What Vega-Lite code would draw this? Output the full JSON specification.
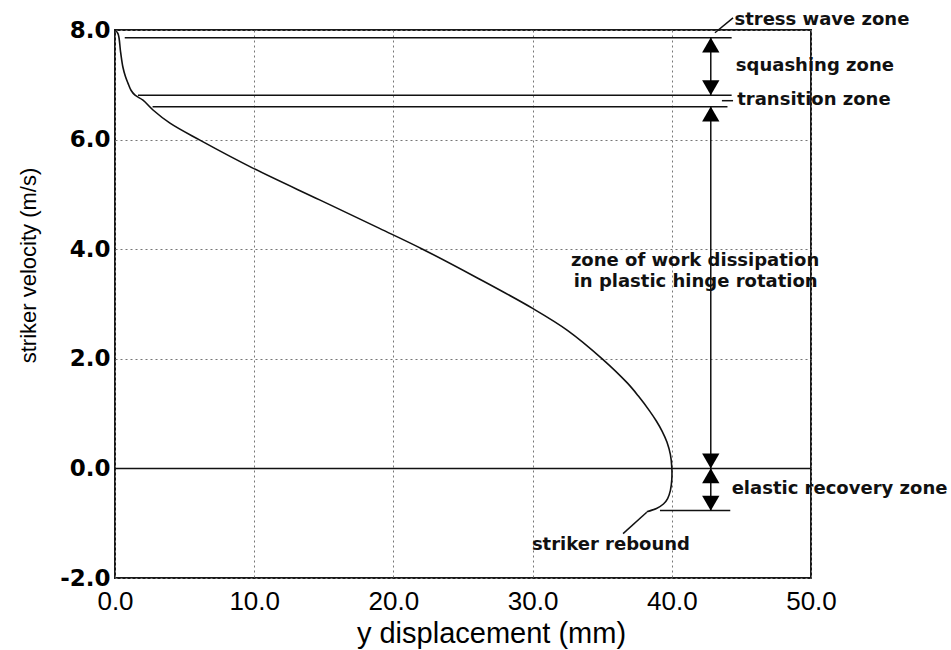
{
  "$schema": "https://vega.github.io/schema/vega-lite/v6.json",
  "width": 696,
  "height": 548,
  "autosize": "none",
  "padding": {"left": 115, "top": 30, "right": 140, "bottom": 72},
  "background": "white",
  "config": {"view": {"stroke": "#1a1a1a", "strokeWidth": 2}},
  "datasets": {
    "curve": [
      {"i": 1, "x": 0.0, "v": 8.0},
      {"i": 2, "x": 0.22, "v": 7.93},
      {"i": 3, "x": 0.4, "v": 7.6},
      {"i": 4, "x": 0.57, "v": 7.32},
      {"i": 5, "x": 0.75, "v": 7.15},
      {"i": 6, "x": 0.93, "v": 7.03},
      {"i": 7, "x": 1.15, "v": 6.9},
      {"i": 8, "x": 1.44, "v": 6.81},
      {"i": 9, "x": 2.01, "v": 6.72},
      {"i": 10, "x": 2.73, "v": 6.54},
      {"i": 11, "x": 3.95, "v": 6.3},
      {"i": 12, "x": 6.1, "v": 5.99},
      {"i": 13, "x": 9.9, "v": 5.48},
      {"i": 14, "x": 14.7, "v": 4.9},
      {"i": 15, "x": 19.0, "v": 4.38},
      {"i": 16, "x": 22.1, "v": 4.0},
      {"i": 17, "x": 26.0, "v": 3.48},
      {"i": 18, "x": 30.0, "v": 2.92},
      {"i": 19, "x": 32.5, "v": 2.52},
      {"i": 20, "x": 35.0, "v": 2.0},
      {"i": 21, "x": 36.8, "v": 1.56},
      {"i": 22, "x": 37.6, "v": 1.32},
      {"i": 23, "x": 38.4, "v": 1.05},
      {"i": 24, "x": 38.9, "v": 0.86},
      {"i": 25, "x": 39.3, "v": 0.68},
      {"i": 26, "x": 39.65, "v": 0.48},
      {"i": 27, "x": 39.9, "v": 0.25},
      {"i": 28, "x": 40.0, "v": 0.02},
      {"i": 29, "x": 40.0, "v": -0.2},
      {"i": 30, "x": 39.9, "v": -0.4},
      {"i": 31, "x": 39.7, "v": -0.55},
      {"i": 32, "x": 39.4, "v": -0.65},
      {"i": 33, "x": 38.9, "v": -0.73},
      {"i": 34, "x": 38.2, "v": -0.79}
    ],
    "segments": [
      {"x": 0, "x2": 50, "v": 0, "v2": 0},
      {"x": 0.7, "x2": 44.3, "v": 7.86, "v2": 7.86},
      {"x": 1.65, "x2": 44.3, "v": 6.81, "v2": 6.81},
      {"x": 2.7, "x2": 44.0, "v": 6.6, "v2": 6.6},
      {"x": 43.6, "x2": 44.4, "v": 6.71, "v2": 6.71},
      {"x": 39.15, "x2": 44.2, "v": -0.77, "v2": -0.77},
      {"x": 42.8, "x2": 42.8, "v": 7.86, "v2": 6.81},
      {"x": 42.8, "x2": 42.8, "v": 6.6, "v2": 0},
      {"x": 42.8, "x2": 42.8, "v": 0, "v2": -0.77},
      {"x": 43.1, "x2": 44.4, "v": 7.95, "v2": 8.22},
      {"x": 38.2, "x2": 36.5, "v": -0.8, "v2": -1.19}
    ],
    "arrows": [
      {"x": 42.8, "v": 7.725, "dir": "up"},
      {"x": 42.8, "v": 6.945, "dir": "down"},
      {"x": 42.8, "v": 6.465, "dir": "up"},
      {"x": 42.8, "v": 0.135, "dir": "down"},
      {"x": 42.8, "v": -0.135, "dir": "up"},
      {"x": 42.8, "v": -0.635, "dir": "down"}
    ],
    "labels": [
      {"x": 44.5, "v": 8.18, "text": "stress wave zone"},
      {"x": 44.6, "v": 7.34, "text": "squashing zone"},
      {"x": 44.7, "v": 6.72, "text": "transition zone"},
      {"x": 32.75, "v": 3.79, "text": "zone of work dissipation"},
      {"x": 32.95, "v": 3.4, "text": "in plastic hinge rotation"},
      {"x": 44.3, "v": -0.37, "text": "elastic recovery zone"},
      {"x": 29.95, "v": -1.39, "text": "striker rebound"}
    ]
  },
  "layer": [
    {
      "data": {"name": "curve"},
      "mark": {"type": "line", "color": "#111", "strokeWidth": 1.6, "interpolate": "catmull-rom"},
      "encoding": {
        "x": {
          "field": "x", "type": "quantitative",
          "scale": {"domain": [0, 50], "nice": false, "zero": false},
          "axis": {
            "title": "y displacement (mm)",
            "values": [0, 10, 20, 30, 40, 50],
            "format": ".1f",
            "grid": true, "gridDash": [2, 3], "gridColor": "#777", "gridWidth": 1,
            "domain": false, "ticks": false,
            "labelFont": "Liberation Sans", "labelFontSize": 26, "labelColor": "black",
            "labelPadding": 10, "labelFlush": false, "labelOverlap": false,
            "titleFont": "Liberation Sans", "titleFontSize": 29, "titleFontWeight": "normal",
            "titleColor": "black", "titleX": 376, "titleY": 64, "titleBaseline": "alphabetic"
          }
        },
        "y": {
          "field": "v", "type": "quantitative",
          "scale": {"domain": [-2, 8], "nice": false, "zero": false},
          "axis": {
            "title": "striker velocity (m/s)",
            "values": [-2, 0, 2, 4, 6, 8],
            "labelExpr": "replace(format(datum.value, '.1f'), '\u2212', '-')",
            "grid": true, "gridDash": [2, 3], "gridColor": "#777", "gridWidth": 1,
            "domain": false, "ticks": false,
            "labelFont": "DejaVu Sans", "labelFontSize": 23, "labelFontWeight": "bold", "labelColor": "black",
            "labelPadding": 5, "labelFlush": false, "labelOverlap": false,
            "titleFont": "Liberation Sans", "titleFontSize": 22, "titleFontWeight": "normal",
            "titleColor": "black", "titleX": -87, "titleY": 235, "titleBaseline": "middle", "titleAngle": 270
          }
        },
        "order": {"field": "i", "type": "quantitative"}
      }
    },
    {
      "data": {"name": "segments"},
      "mark": {"type": "rule", "color": "#111", "strokeWidth": 1.5},
      "encoding": {
        "x": {"field": "x", "type": "quantitative", "scale": {"domain": [0, 50], "nice": false, "zero": false}},
        "x2": {"field": "x2"},
        "y": {"field": "v", "type": "quantitative", "scale": {"domain": [-2, 8], "nice": false, "zero": false}},
        "y2": {"field": "v2"}
      }
    },
    {
      "data": {"name": "arrows"},
      "mark": {"type": "point", "filled": true, "color": "black", "size": 300, "opacity": 1},
      "encoding": {
        "x": {"field": "x", "type": "quantitative", "scale": {"domain": [0, 50], "nice": false, "zero": false}},
        "y": {"field": "v", "type": "quantitative", "scale": {"domain": [-2, 8], "nice": false, "zero": false}},
        "shape": {"field": "dir", "type": "nominal", "scale": {"domain": ["up", "down"], "range": ["triangle-up", "triangle-down"]}, "legend": null}
      }
    },
    {
      "data": {"name": "labels"},
      "mark": {"type": "text", "align": "left", "baseline": "middle", "font": "DejaVu Sans", "fontSize": 18, "fontWeight": "bold", "color": "#111"},
      "encoding": {
        "x": {"field": "x", "type": "quantitative", "scale": {"domain": [0, 50], "nice": false, "zero": false}},
        "y": {"field": "v", "type": "quantitative", "scale": {"domain": [-2, 8], "nice": false, "zero": false}},
        "text": {"field": "text"}
      }
    }
  ]
}
